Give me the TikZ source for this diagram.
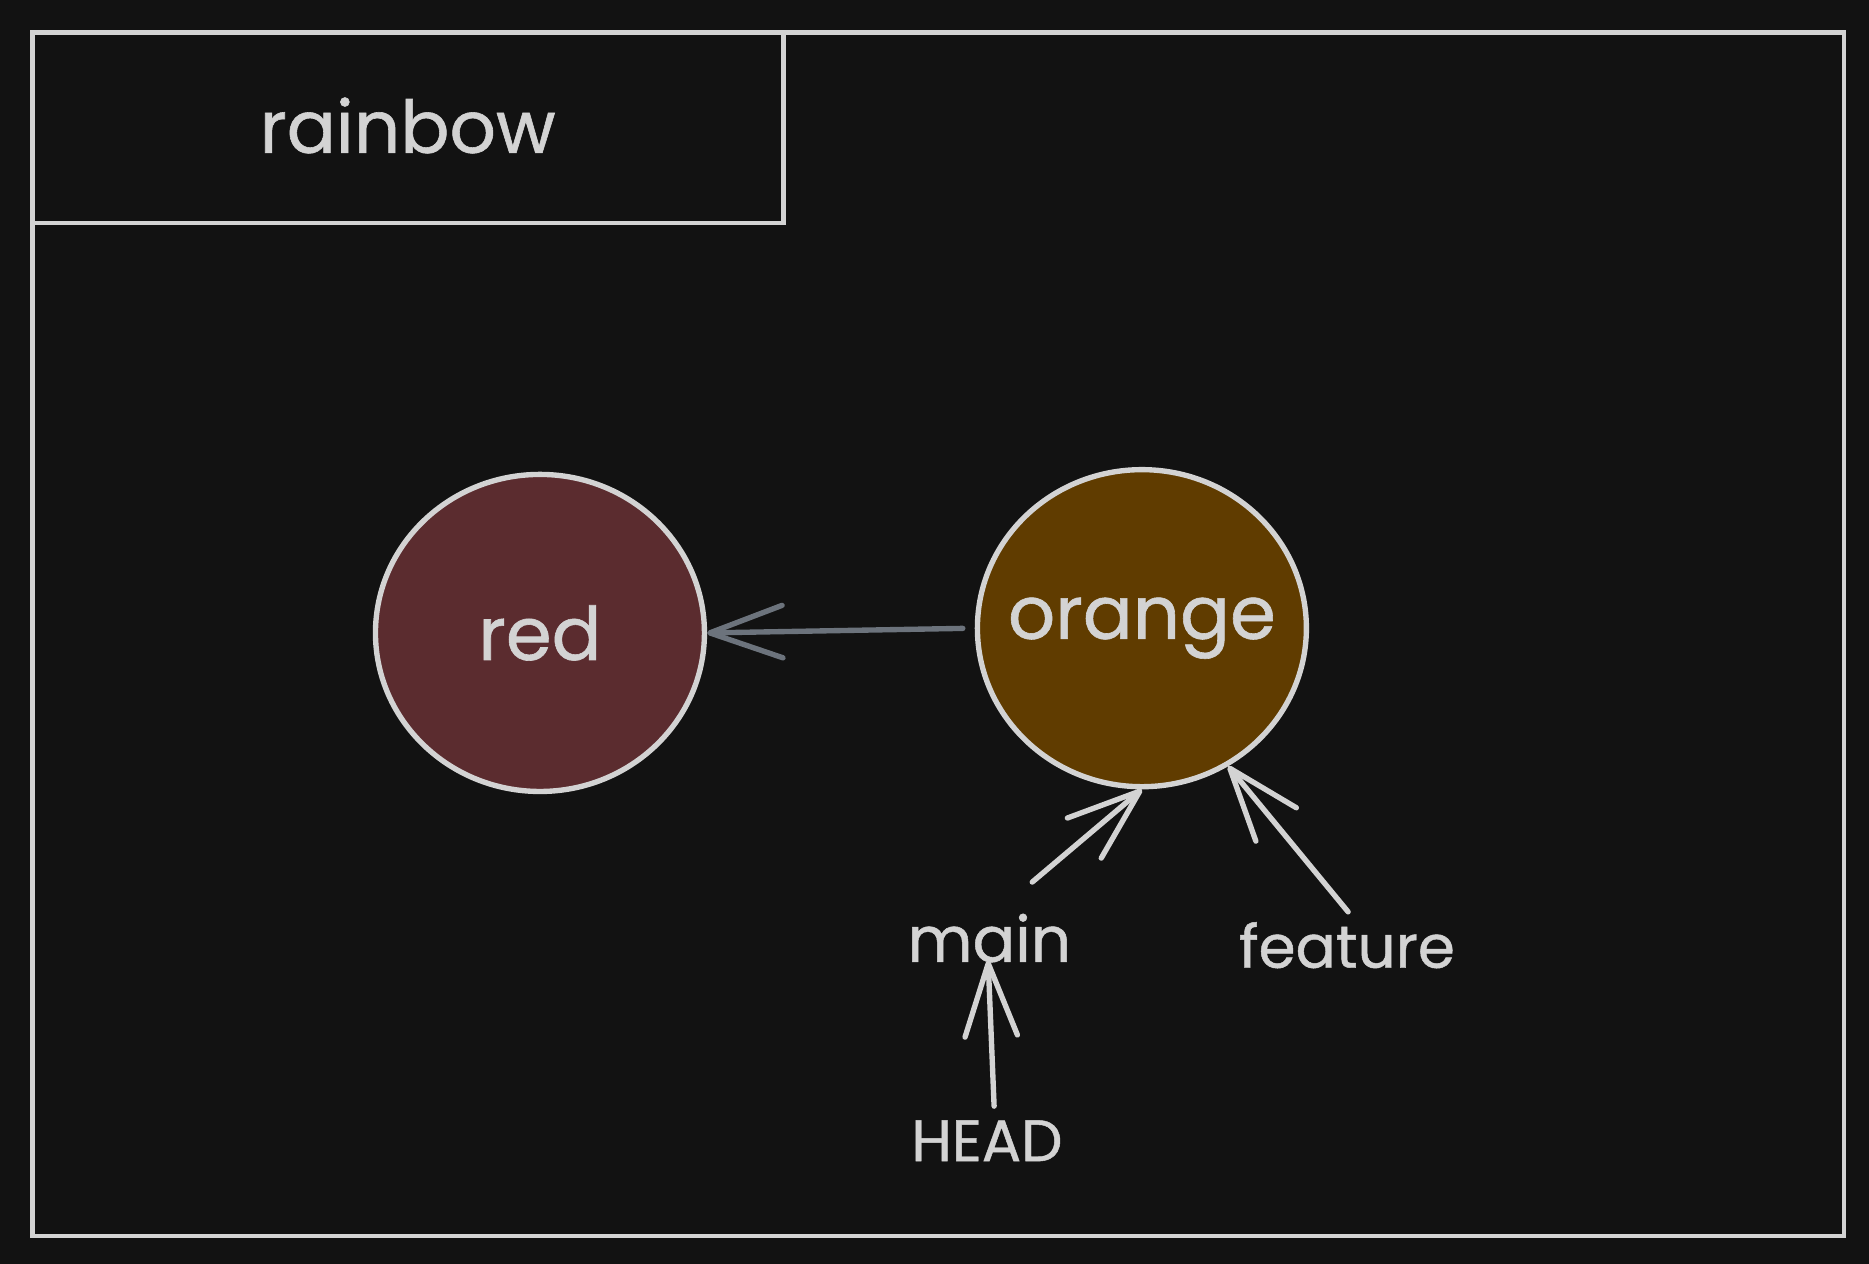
\documentclass[tikz,border=0pt]{standalone}
\usepackage{fontspec}
\setmainfont{Poppins}[FakeBold=0.8]
\usetikzlibrary{shapes.geometric,arrows.meta,calc}
\definecolor{bg}{HTML}{121212}
\definecolor{ink}{HTML}{D3D3D3}
\definecolor{redfill}{HTML}{5B2C2F}
\definecolor{orangefill}{HTML}{603C00}
\definecolor{slate}{HTML}{6C737C}
\tikzset{
  frame/.style={draw=ink,line width=4pt},
  commit/.style={ellipse,draw=ink,line width=4.5pt,minimum width=276pt,minimum height=266pt,inner sep=0pt,text=ink,font=\fontsize{62}{72}\selectfont},
  lbl/.style={text=ink,inner sep=0pt,font=\fontsize{50}{58}\selectfont},
  ptr/.style={draw=ink,line width=4.5pt,line cap=round,-{Straight Barb[length=61pt,width=44pt,round]}},
  parent/.style={draw=slate,line width=4.5pt,line cap=round,-{Straight Barb[length=61pt,width=44pt,round]}}
}
\begin{document}
\begin{tikzpicture}[x=1pt,y=-1pt]
\fill[bg] (0,0) rectangle (1568,1060);
\useasboundingbox (0,0) rectangle (1568,1060);
\node[frame,minimum width=1520pt,minimum height=1010pt,anchor=north west,inner sep=0pt] (outer) at (25,25) {};
\node[frame,minimum width=630pt,minimum height=160pt,anchor=north west,inner sep=0pt,text=ink,font=\fontsize{61}{70}\selectfont] (title) at (25,25) {\raisebox{4pt}{rainbow}};
\node[commit,fill=redfill] (red) at (453,531) {\makebox[0pt][c]{red}};
\node[commit,fill=orangefill] (orange) at (958,527) {\makebox[0pt][c]{orange}};
\node[lbl,font=\fontsize{53}{60}\selectfont] (main) at (830,787) {main};
\node[lbl] (feature) at (1130,793) {feature};
\node[lbl,font=\fontsize{49}{56}\selectfont] (head) at (828,957) {HEAD};
\draw[parent,shorten <=10pt] (orange.west) -- (red.east);
\draw[ptr] ($(main.center)+(36,-47)$) -- (orange.south);
\draw[ptr] ($(feature.center)+(1,-28)$) -- (orange.-58);
\draw[ptr] ($(head.center)+(6,-29)$) -- ($(main.center)+(-1,19)$);
\end{tikzpicture}
\end{document}
